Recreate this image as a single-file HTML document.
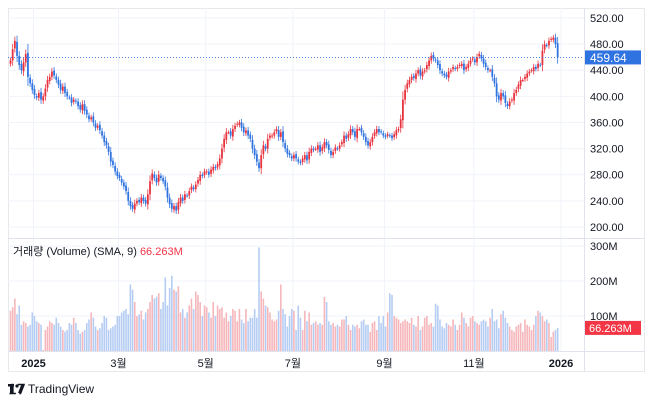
<!DOCTYPE html>
<html><head><meta charset="utf-8">
<style>
body{margin:0;background:#fff;width:650px;height:404px;overflow:hidden;font-family:"Liberation Sans","Noto Sans CJK KR",sans-serif}
svg text{font-family:"Liberation Sans","Noto Sans CJK KR",sans-serif}
</style></head>
<body>
<svg id="c" width="650" height="404" xmlns="http://www.w3.org/2000/svg">
<rect x="8.5" y="8.5" width="636" height="363" fill="#fff" stroke="#e6e8ec"/>
<g id="grid"></g>
<line x1="584.5" y1="8" x2="584.5" y2="372" stroke="#e0e3eb"/>
<line x1="8" y1="238.5" x2="645" y2="238.5" stroke="#e0e3eb"/>
<line x1="8" y1="351.5" x2="645" y2="351.5" stroke="#e0e3eb"/>
<g id="vol"></g>
<g id="candles"></g>
<g id="axes"></g>
<text x="13" y="255" font-size="11" fill="#131722">거래량 (Volume) (SMA, 9) <tspan fill="#f23645">66.263M</tspan></text>
<g>
<text x="8" y="394" font-size="14" font-weight="bold" fill="#131722">𝟣𝟩</text>
<rect x="8" y="384" width="6" height="2.5" fill="#131722"/><rect x="10" y="384" width="2.5" height="9" fill="#131722"/>
<circle cx="17" cy="386" r="1.6" fill="#131722"/><path d="M18 393 L21.5 384 L24 384 L20.5 393Z" fill="#131722"/>
<text x="28" y="393" font-size="12" fill="#131722">TradingView</text>
</g>
</svg>
<script>
const closes=[455,472,485,462,448,440,452,465,430,420,
410,402,398,405,395,400,412,425,430,438,
432,425,418,410,415,405,400,398,390,395,
392,385,380,388,378,372,365,368,360,352,
355,348,340,330,325,315,300,295,285,278,
275,268,262,255,240,232,228,236,240,238,
245,240,236,250,270,282,275,268,280,275,
270,262,245,235,228,232,225,238,245,240,
250,248,255,262,258,265,272,280,278,285,
285,280,288,292,290,296,305,320,335,345,
345,340,350,355,358,360,352,345,348,340,
335,320,310,300,290,310,325,320,335,340,
340,345,350,338,345,330,320,312,310,305,
310,305,300,298,305,310,302,315,320,318,
320,325,315,322,330,325,318,310,315,322,
320,325,330,340,335,342,350,345,338,350,
350,345,338,330,325,330,338,345,350,345,
345,340,338,342,340,336,342,348,350,365,
395,410,420,425,430,428,435,440,432,438,
440,448,455,462,458,455,448,440,435,432,
430,438,440,445,442,445,448,450,440,445,
450,455,458,452,460,465,458,450,445,440,
440,430,420,400,395,405,400,390,385,392,
395,405,410,418,425,425,430,435,438,440,
445,442,450,448,470,480,478,485,488,490,
480,459.64];
const volumes=[115,125,150,105,130,75,85,80,70,75,
110,100,85,80,75,3,60,70,85,80,
75,95,80,70,60,55,60,80,75,95,
80,60,50,55,60,80,90,110,95,70,
60,65,80,100,95,60,65,70,75,100,
100,110,115,120,105,190,175,140,100,105,
115,90,110,120,140,160,150,155,165,120,
140,210,130,180,215,175,170,185,110,120,
95,110,130,150,120,170,160,140,100,130,
125,110,95,140,100,130,120,125,95,110,
85,100,120,115,85,120,90,80,120,85,
95,95,120,95,296,170,150,130,125,110,
90,85,90,115,190,120,105,70,100,120,
115,60,130,95,60,115,85,110,75,80,
85,75,80,75,155,140,85,75,80,70,
75,70,90,90,100,75,60,75,70,75,
65,85,90,75,75,55,80,85,60,100,
80,100,70,110,165,160,100,95,90,80,
85,90,85,80,95,75,70,100,60,70,
95,100,75,80,70,135,130,90,70,65,
80,75,70,90,75,60,75,110,95,80,
70,95,100,85,80,75,85,90,85,70,
95,120,85,90,65,105,115,95,80,70,
60,55,70,75,80,55,90,75,70,60,
75,100,115,110,100,85,90,80,40,55,
60,66];
const priceTicks=[520,480,440,400,360,320,280,240,200];
const volTicks=[300,200,100];
const timeLabels=["2025","3월","5월","7월","9월","11월","2026"];
const timeIdx=[11,50,90,130,172,213,253];
const lastPrice=459.64, lastVol="66.263M";

const NS="http://www.w3.org/2000/svg";
function mk(t,a,p){const e=document.createElementNS(NS,t);for(const k in a)e.setAttribute(k,a[k]);p.appendChild(e);return e;}
const xS=i=>10.5+i*2.18;
const yP=p=>18+(520-p)*0.6531;
const yV=v=>351-v*0.35;
const grid=document.getElementById('grid'),axes=document.getElementById('axes');
priceTicks.forEach(p=>{
  const l=mk('line',{x1:8,x2:584,y1:yP(p),y2:yP(p),stroke:'#f0f3fa'},grid);
  
  
  const t=mk('text',{x:590,y:yP(p)+4,'font-size':11,fill:'#131722'},axes);
  t.textContent=p.toFixed(2);
  
  
});
volTicks.forEach(v=>{
  const l=mk('line',{x1:8,x2:584,y1:yV(v),y2:yV(v),stroke:'#f0f3fa'},grid);
  
  
  const t=mk('text',{x:590,y:yV(v)+4,'font-size':11,fill:'#131722'},axes);
  t.textContent=v+'M';
  
  
});
timeLabels.forEach((s,k)=>{
  const x=xS(timeIdx[k])-1;
  const l=mk('line',{x1:x,x2:x,y1:8,y2:351,stroke:'#f0f3fa'},grid);
  
  
  const bold=(s.length==4);
  const t=mk('text',{x:x,y:367,'font-size':11,fill:'#131722','text-anchor':'middle','font-weight':bold?'bold':'normal'},axes);
  t.textContent=s;
  
  
});
const vg=document.getElementById('vol'),cg=document.getElementById('candles');
closes.forEach((c,i)=>{
  const o=i?closes[i-1]+(i%3-1)*1.5:c-5;
  const up=c>=o;
  const hi=Math.max(o,c)+Math.abs(c-o)*0.3+3, lo=Math.min(o,c)-Math.abs(c-o)*0.3-3;
  const col=up?'#e8333f':'#2f73e0';
  const x=xS(i);
  const w=mk('line',{x1:x,x2:x,y1:yP(hi),y2:yP(lo),stroke:col,'stroke-width':0.8},cg);
  
  
  const y1=yP(Math.max(o,c)),y2=yP(Math.min(o,c));
  const b=mk('rect',{x:x-0.9,y:y1,width:1.8,height:Math.max(1,y2-y1),fill:col},cg);
  
  
  const v=volumes[i];
  const r=mk('rect',{x:x-0.8,y:yV(v),width:1.6,height:351-yV(v),fill:up?'#f5b7bb':'#b5cdf3'},vg);
  
  
});
const yl=yP(lastPrice);
const dl=mk('line',{x1:8,x2:584,y1:yl,y2:yl,stroke:'#2f73e0','stroke-width':0.8,'stroke-dasharray':'1 2'},axes);


const pb=mk('rect',{x:585,y:yl-7,width:56,height:14,fill:'#2f73e0'},axes);


const pt=mk('text',{x:590,y:yl+4.5,'font-size':12,fill:'#fff'},axes);
pt.textContent=lastPrice.toFixed(2);


const yv=yV(volumes[volumes.length-1]);
const vb=mk('rect',{x:585,y:yv-7,width:56,height:14,fill:'#f23645'},axes);


const vt=mk('text',{x:589,y:yv+4,'font-size':11,fill:'#fff'},axes);
vt.textContent=lastVol;


</script>
</body></html>
